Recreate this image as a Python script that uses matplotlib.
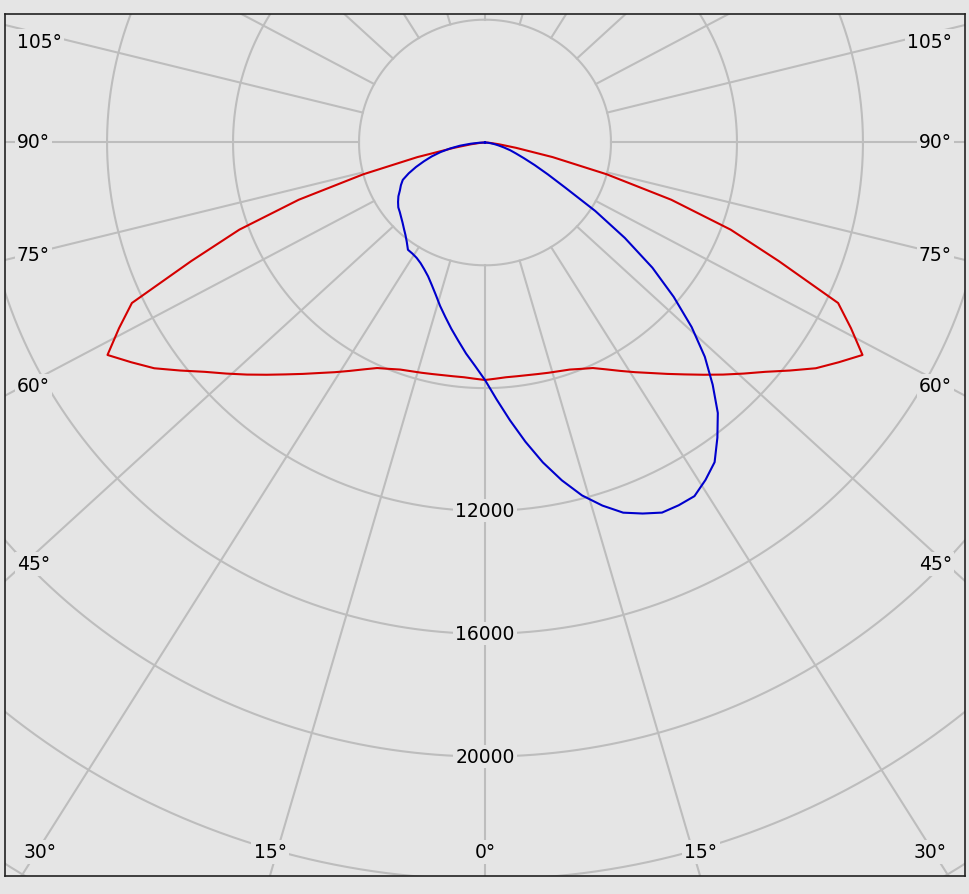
import numpy as np
import matplotlib
matplotlib.use("Agg")
from matplotlib import pyplot as plt

# gamma angles (deg from nadir) and luminous intensity (cd)
gamma = [0, 2.5, 5, 7.5, 10, 12.5, 15, 17.5, 20, 22.5, 25, 27.5, 30, 32.5, 35, 37.5,
         40, 42.5, 45, 47.5, 50, 52.5, 55, 57.5, 60, 62.5, 65, 67.5, 70, 72.5, 75,
         77.5, 80, 82.5, 85, 87.5, 90]
# red plane is symmetric
red_cd = [7735, 7700, 7675, 7680, 7695, 7725, 7765, 7810, 7870, 7980, 8105, 8330,
          8590, 8870, 9165, 9500, 9860, 10260, 10690, 11140, 11620, 12200, 12820,
          13320, 13840, 13100, 12370, 10100, 8300, 6200, 4000, 2200, 1000, 450, 180,
          50, 0]
# blue plane, right half (C0) and left half (C180)
blue_right_cd = [7735, 8370, 9080, 9830, 10580, 11270, 11900, 12400, 12830, 13080,
                 13300, 13320, 13300, 13030, 12710, 12120, 11500, 10700, 9870, 8900,
                 7820, 6700, 5420, 4150, 2950, 2250, 1740, 1340, 1050, 840, 620, 440,
                 300, 180, 100, 40, 0]
blue_left_cd = [7735, 7280, 6900, 6510, 6160, 5820, 5510, 5200, 4940, 4720, 4560,
                4430, 4340, 4290, 4265, 4080, 3930, 3810, 3700, 3610, 3530, 3470,
                3370, 3260, 3120, 3010, 2880, 2620, 2330, 2030, 1750, 1450, 1130, 800,
                450, 180, 0]

ring_values = [4000, 8000, 12000, 16000, 20000, 24000, 28000]
ring_labels = [12000, 16000, 20000]
spoke_angles = list(range(0, 360, 15))

side_labels = ["105°", "90°", "75°", "60°", "45°"]
side_label_y = [42, 143, 256, 387, 565]          # pixel rows
bottom_labels = ["30°", "15°", "0°", "15°", "30°"]
bottom_label_x = [40, 270, 485, 701, 930]        # pixel columns

bg = "#e5e5e5"
grid_c = "#bdbdbd"

fig = plt.figure(figsize=(9.69, 8.95), dpi=100, facecolor=bg)
ax = fig.add_axes([5 / 969, 18 / 895, 960 / 969, 862 / 895])
ax.set_facecolor(bg)
ax.set_xlim(-15240, 15240)
ax.set_ylim(-23890, 4185)
ax.set_xticks([])
ax.set_yticks([])
for s in ax.spines.values():
    s.set_color("#222222")
    s.set_linewidth(1.2)

# grid circles
t = np.linspace(0, 2 * np.pi, 721)
for r in ring_values:
    ax.plot(r * np.cos(t), r * np.sin(t), color=grid_c, lw=1.5, zorder=1)

# spokes (start at the inner ring)
k = 1.067
for a in spoke_angles:
    th = np.radians(a)
    dx, dy = k * np.sin(th), -np.cos(th)
    n = np.hypot(dx, dy)
    dx, dy = dx / n, dy / n
    ax.plot([4000 * dx, 40000 * dx], [4000 * dy, 40000 * dy], color=grid_c, lw=1.5, zorder=1)

# curves
g = np.radians(gamma)


def plane(left, right):
    left = np.asarray(left, dtype=float)
    right = np.asarray(right, dtype=float)
    x = np.concatenate([-(left * np.sin(g))[::-1], (right * np.sin(g))[1:]])
    y = np.concatenate([-(left * np.cos(g))[::-1], -(right * np.cos(g))[1:]])
    return x, y


rx, ry = plane(red_cd, red_cd)
ax.plot(rx, ry, color="#d40000", lw=1.5, zorder=3)
bx, by = plane(blue_left_cd, blue_right_cd)
ax.plot(bx, by, color="#0000cc", lw=1.5, zorder=3)

box = dict(facecolor=bg, edgecolor="none", pad=1.5)
fs = 13.5

for v in ring_labels:
    ax.text(0, -v, str(v), ha="center", va="center", fontsize=fs, bbox=box, zorder=4)


def fx(px):
    return (px - 5) / 960


def fy(py):
    return (877 - py) / 862


for lab, py in zip(side_labels, side_label_y):
    ax.text(fx(17), fy(py), lab, transform=ax.transAxes, ha="left", va="center",
            fontsize=fs, bbox=box, zorder=4)
    ax.text(fx(952), fy(py), lab, transform=ax.transAxes, ha="right", va="center",
            fontsize=fs, bbox=box, zorder=4)

for lab, px in zip(bottom_labels, bottom_label_x):
    ax.text(fx(px), fy(853), lab, transform=ax.transAxes, ha="center", va="center",
            fontsize=fs, bbox=box, zorder=4)

fig.savefig("out.png", dpi=100, facecolor=bg)
